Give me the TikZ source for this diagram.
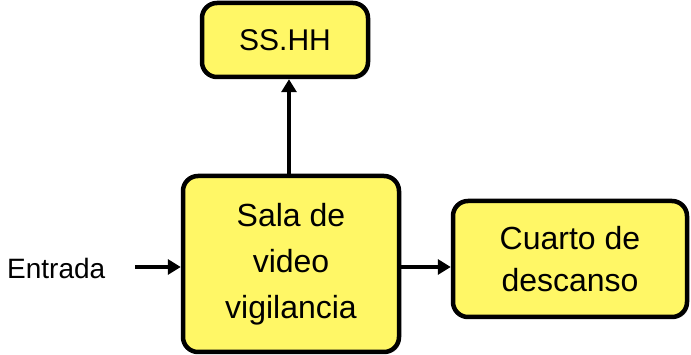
\documentclass[tikz,border=0pt]{standalone}
\usepackage{fontspec}
\setmainfont{Liberation Sans}
\usetikzlibrary{arrows.meta,shadows}
\begin{document}
\begin{tikzpicture}[x=1pt,y=-1pt,
  box/.style={draw=black,line width=4.5pt,fill=yellow!60,rounded corners=15pt,
    align=center,inner sep=0pt,
    drop shadow={shadow xshift=2pt,shadow yshift=-2pt,opacity=0.3}},
  conn/.style={line width=4.5pt,-{Triangle[length=13pt,width=15pt]}}]
\useasboundingbox (0,0) rectangle (691,355);
\node[box,minimum width=166pt,minimum height=74pt,font=\fontsize{30}{35}\selectfont] (ss) at (285,40) {SS.HH};
\node[box,minimum width=216pt,minimum height=176pt,font=\fontsize{32}{46}\selectfont] (sala) at (291,264) {Sala de\\video\\vigilancia};
\node[box,minimum width=234pt,minimum height=116pt,font=\fontsize{32}{42}\selectfont] (cuarto) at (570,259) {Cuarto de\\descanso};
\node[font=\fontsize{28}{32}\selectfont,anchor=west,inner sep=0pt] (ent) at (7,268) {Entrada};
\coordinate (es) at (135,267);
\draw[conn] (es) -- (sala.west|-es);
\draw[conn] (sala.east|-es) -- (cuarto.west|-es);
\draw[conn] (sala.north-|289,0) -- (ss.south-|289,0);
\end{tikzpicture}
\end{document}
